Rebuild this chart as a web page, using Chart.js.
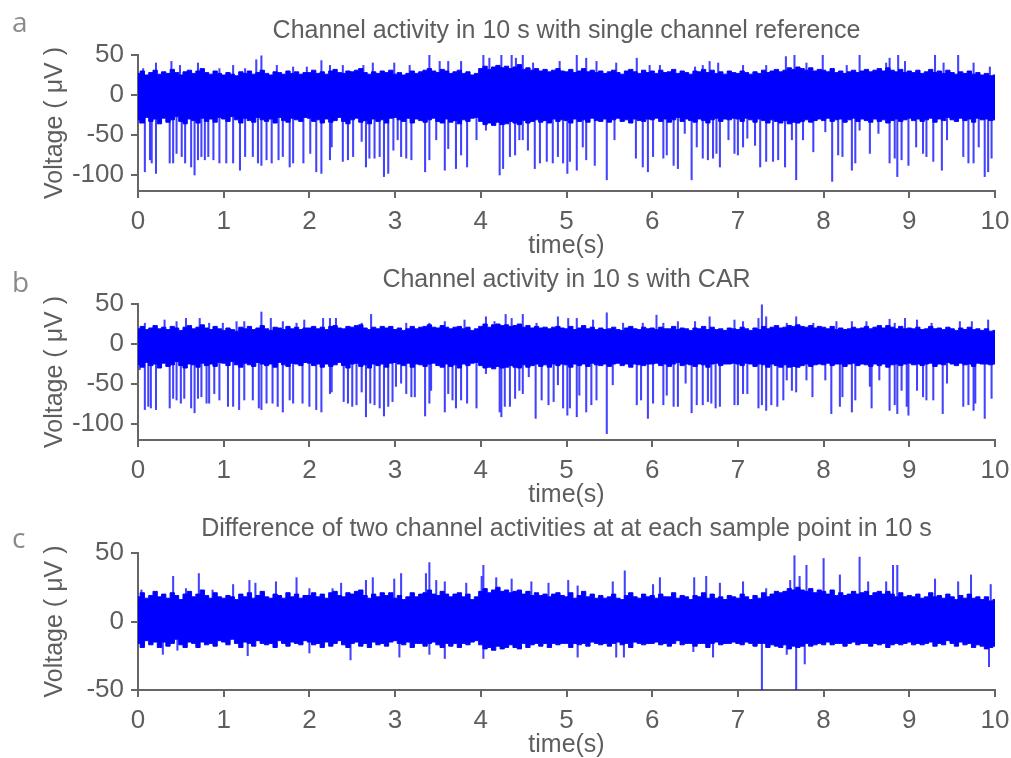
<!DOCTYPE html>
<html>
<head>
<meta charset="utf-8">
<script src="https://cdn.jsdelivr.net/npm/chart.js@4.4.1/dist/chart.umd.min.js"></script>
<style>
  html, body { margin: 0; background: #ffffff; }
  .wrap { position: relative; width: 1011px; height: 758px; }
  .wrap canvas { position: absolute; left: 0; top: 0; }
</style>
</head>
<body>
<div class="wrap">
  <canvas id="panelA" width="1011" height="758"></canvas>
  <canvas id="panelB" width="1011" height="758"></canvas>
  <canvas id="panelC" width="1011" height="758"></canvas>
</div>
<script>
// ---- tick labels -------------------------------------------------------
const timeTicks = [0, 1, 2, 3, 4, 5, 6, 7, 8, 9, 10];
const voltTicksAB = [-100, -50, 0, 50];
const voltTicksC = [-50, 0, 50];

// ---- signal envelopes, one value every 0.05 s (µV) -----------------------
const binStep = 0.05;

const topA = [
  27,30,25,28,31,26,29,27,32,28,25,29,31,27,30,33,28,26,30,27,
  25,28,26,24,29,27,30,26,28,31,27,25,29,28,26,30,27,29,26,28,
  28,31,27,29,26,30,32,28,27,30,29,31,33,28,26,29,27,30,28,31,
  26,28,25,27,30,27,29,31,33,30,28,32,30,27,29,31,27,29,25,27,
  33,36,32,35,37,34,36,33,35,38,32,34,31,33,30,32,29,31,33,30,
  29,32,28,30,33,29,31,28,30,27,29,31,28,26,30,32,29,27,31,28,
  30,27,31,28,29,32,27,30,28,26,30,29,32,28,31,27,29,26,30,28,
  27,30,28,26,29,27,31,28,30,32,29,31,34,32,35,33,31,34,30,32,
  31,29,33,28,30,27,29,31,28,30,32,29,31,33,30,34,31,29,32,28,
  30,28,31,27,29,32,28,30,27,31,28,26,29,27,30,26,28,25,27,24,
  25];
const botA = [
  -31,-35,-28,-33,-30,-36,-29,-34,-31,-27,-33,-36,-30,-32,-35,-29,-33,-30,-34,-28,
  -30,-33,-27,-31,-35,-29,-32,-34,-28,-31,-33,-30,-35,-28,-32,-34,-29,-31,-33,-28,
  -29,-33,-31,-35,-30,-34,-32,-28,-33,-36,-31,-29,-34,-32,-36,-30,-33,-31,-35,-29,
  -28,-31,-33,-29,-35,-30,-32,-34,-31,-29,-33,-35,-30,-34,-32,-36,-31,-33,-29,-28,
  -33,-37,-35,-38,-34,-37,-36,-33,-35,-37,-32,-35,-33,-31,-34,-32,-35,-30,-33,-31,
  -32,-35,-30,-33,-31,-34,-29,-32,-33,-30,-34,-31,-29,-33,-31,-35,-30,-32,-33,-30,
  -31,-29,-33,-30,-34,-31,-28,-33,-30,-32,-34,-30,-32,-35,-31,-29,-33,-30,-31,-29,
  -30,-33,-29,-31,-34,-30,-32,-35,-31,-33,-35,-32,-36,-34,-35,-33,-31,-34,-32,-30,
  -32,-29,-33,-31,-30,-34,-31,-29,-33,-30,-32,-34,-30,-33,-31,-35,-32,-30,-33,-31,
  -29,-32,-30,-33,-31,-29,-34,-30,-32,-28,-31,-33,-29,-32,-30,-34,-29,-31,-30,-32,
  -31];

const topB = [
  19,22,18,20,23,19,21,18,22,20,17,21,23,19,21,24,20,18,22,19,
  17,20,18,16,21,19,22,18,20,23,19,17,21,20,18,22,19,21,18,20,
  20,22,19,21,18,22,23,20,19,22,21,23,24,20,18,21,19,22,20,22,
  18,20,17,19,22,19,21,22,24,21,20,23,21,19,21,22,19,21,17,19,
  22,25,21,24,25,23,24,22,23,25,21,23,20,22,20,21,19,21,22,20,
  19,22,18,20,23,19,21,18,20,18,19,21,18,17,20,22,19,18,21,19,
  20,18,21,19,19,22,18,20,19,17,20,19,22,18,21,18,19,17,20,19,
  18,21,19,17,20,18,22,19,21,23,20,21,23,22,24,22,21,23,20,22,
  21,19,22,18,20,18,19,21,19,20,22,19,21,23,20,23,21,19,22,19,
  20,19,21,18,19,22,19,20,18,21,19,17,20,18,21,18,19,17,19,16,
  17];
const botB = [
  -26,-29,-23,-27,-25,-30,-24,-28,-26,-22,-27,-30,-25,-26,-29,-24,-27,-25,-28,-23,
  -24,-27,-22,-26,-29,-24,-26,-28,-23,-25,-27,-25,-29,-23,-26,-28,-24,-25,-27,-23,
  -24,-27,-25,-29,-25,-28,-26,-23,-27,-30,-25,-24,-28,-26,-30,-25,-27,-25,-29,-24,
  -23,-25,-27,-24,-29,-25,-26,-28,-25,-24,-27,-29,-25,-28,-26,-30,-25,-27,-24,-23,
  -27,-30,-29,-31,-28,-30,-29,-27,-29,-30,-26,-29,-27,-25,-28,-26,-29,-25,-27,-25,
  -26,-29,-25,-27,-25,-28,-24,-26,-27,-25,-28,-25,-24,-27,-25,-29,-25,-26,-27,-25,
  -25,-24,-27,-25,-28,-25,-23,-27,-25,-26,-28,-25,-26,-29,-25,-24,-27,-25,-25,-24,
  -25,-27,-24,-25,-28,-25,-26,-29,-25,-27,-29,-26,-29,-28,-29,-27,-25,-28,-26,-25,
  -26,-24,-27,-25,-25,-28,-25,-24,-27,-25,-26,-28,-25,-27,-25,-29,-26,-25,-27,-25,
  -24,-26,-25,-27,-25,-24,-28,-25,-26,-23,-25,-27,-24,-26,-25,-28,-24,-25,-25,-26,
  -25];

const topC = [
  18,21,17,19,22,18,20,17,21,19,16,20,22,18,20,23,19,17,21,18,
  17,19,18,16,20,18,21,17,19,22,18,17,20,19,17,21,18,20,17,19,
  19,21,18,20,17,21,22,19,18,21,20,22,23,19,17,20,18,21,19,21,
  17,19,16,18,21,18,20,21,23,20,19,22,20,18,20,21,18,20,16,18,
  22,24,21,23,25,22,23,21,22,23,20,22,19,21,19,20,18,20,21,19,
  18,21,17,19,22,18,20,17,19,17,18,20,17,16,19,21,18,17,20,18,
  19,17,20,18,18,21,17,19,18,16,19,18,21,17,20,17,18,16,19,18,
  17,20,18,16,19,17,21,18,20,22,21,22,24,23,25,23,22,24,21,23,
  22,20,23,19,21,19,20,22,20,21,22,19,21,22,20,22,20,18,21,18,
  19,18,20,17,18,21,18,19,17,20,18,16,19,17,20,17,18,16,18,15,
  16];
const botC = [
  -16,-19,-14,-17,-15,-19,-15,-18,-16,-13,-17,-19,-15,-16,-19,-15,-17,-16,-18,-14,
  -15,-17,-13,-16,-19,-15,-16,-18,-14,-16,-17,-16,-19,-14,-16,-18,-15,-16,-17,-14,
  -15,-17,-16,-19,-15,-18,-16,-14,-17,-19,-16,-15,-18,-16,-19,-15,-17,-16,-18,-15,
  -14,-16,-17,-15,-19,-16,-16,-18,-16,-15,-17,-19,-16,-18,-16,-19,-16,-17,-15,-14,
  -17,-20,-19,-21,-18,-20,-19,-17,-19,-20,-16,-19,-17,-16,-18,-16,-19,-16,-17,-16,
  -16,-19,-16,-17,-16,-18,-15,-16,-17,-16,-18,-16,-15,-17,-16,-19,-15,-16,-17,-16,
  -16,-15,-17,-16,-18,-16,-14,-17,-16,-16,-18,-16,-16,-19,-16,-15,-17,-16,-16,-15,
  -16,-17,-15,-16,-18,-16,-16,-19,-17,-18,-19,-17,-20,-18,-19,-18,-16,-18,-17,-16,
  -17,-15,-17,-16,-16,-18,-16,-15,-17,-16,-16,-18,-16,-17,-16,-19,-17,-16,-17,-16,
  -15,-17,-16,-17,-16,-15,-18,-16,-17,-14,-16,-18,-15,-17,-16,-19,-17,-18,-20,-19,
  -18];

// ---- isolated spikes: [time (s), voltage (µV)] ----------------------------
const peaksA = [[0.06,33],[0.21,40],[0.39,42],[0.49,37],[0.70,40],[0.95,33],[1.11,37],[1.25,33],
  [1.38,44],[1.44,49],[1.62,37],[1.81,35],[1.97,35],[2.14,43],[2.24,37],[2.39,37],[2.63,37],
  [2.74,40],[2.99,40],[3.17,37],[3.40,50],[3.52,42],[3.62,42],[3.77,42],[4.03,50],[4.10,46],
  [4.24,50],[4.36,50],[4.41,46],[4.49,51],[4.61,40],[4.92,42],[5.12,50],[5.23,46],[5.35,42],
  [5.58,40],[5.82,46],[5.97,37],[6.09,37],[6.50,35],[6.59,37],[6.67,42],[6.77,40],[7.06,37],
  [7.33,37],[7.56,48],[7.66,50],[7.80,40],[7.99,50],[8.27,37],[8.42,50],[8.73,40],[8.77,46],
  [8.87,50],[8.95,42],[9.30,50],[9.40,40],[9.57,50],[9.75,40],[9.94,35]];
const dipsA = [[0.02,-35],[0.08,-96],[0.14,-81],[0.16,-85],[0.21,-98],[0.37,-85],[0.41,-85],
  [0.45,-73],[0.51,-77],[0.55,-85],[0.62,-90],[0.66,-100],[0.70,-81],[0.74,-77],[0.78,-81],
  [0.82,-77],[0.88,-81],[0.95,-85],[1.03,-85],[1.11,-85],[1.19,-94],[1.25,-77],[1.34,-77],
  [1.40,-85],[1.44,-88],[1.50,-81],[1.56,-85],[1.64,-81],[1.69,-77],[1.77,-90],[1.81,-85],
  [1.93,-85],[2.01,-73],[2.08,-96],[2.14,-98],[2.24,-81],[2.26,-65],[2.39,-83],[2.45,-81],
  [2.51,-77],[2.61,-58],[2.66,-90],[2.70,-79],[2.76,-79],[2.82,-77],[2.87,-102],[2.92,-98],
  [2.98,-69],[3.03,-56],[3.07,-77],[3.13,-79],[3.19,-81],[3.35,-96],[3.40,-81],[3.48,-56],
  [3.58,-94],[3.62,-67],[3.71,-92],[3.77,-75],[3.84,-90],[3.95,-56],[4.06,-44],[4.22,-100],
  [4.26,-92],[4.34,-77],[4.40,-75],[4.45,-56],[4.49,-56],[4.55,-69],[4.63,-92],[4.69,-85],
  [4.77,-83],[4.84,-85],[4.90,-77],[4.96,-85],[5.01,-98],[5.04,-83],[5.12,-94],[5.19,-65],
  [5.23,-81],[5.33,-88],[5.47,-106],[5.56,-56],[5.81,-79],[5.89,-90],[5.95,-96],[6.01,-77],
  [6.13,-79],[6.17,-75],[6.25,-88],[6.30,-92],[6.38,-48],[6.46,-106],[6.52,-65],[6.59,-79],
  [6.65,-81],[6.71,-79],[6.75,-73],[6.79,-90],[6.89,-56],[6.96,-73],[7.00,-75],[7.06,-65],
  [7.11,-54],[7.20,-63],[7.26,-90],[7.33,-83],[7.41,-83],[7.47,-81],[7.55,-90],[7.63,-56],
  [7.68,-106],[7.76,-56],[7.88,-71],[8.02,-46],[8.10,-108],[8.17,-75],[8.22,-77],[8.33,-94],
  [8.37,-85],[8.42,-44],[8.54,-73],[8.64,-48],[8.77,-85],[8.83,-79],[8.86,-102],[8.91,-81],
  [8.99,-88],[9.08,-65],[9.16,-73],[9.20,-77],[9.28,-83],[9.38,-94],[9.44,-56],[9.63,-77],
  [9.69,-85],[9.75,-85],[9.81,-65],[9.88,-102],[9.92,-96],[9.96,-79]];

const peaksB = [[0.08,26],[0.31,30],[0.45,28],[0.56,32],[0.72,32],[0.83,26],[0.99,26],[1.15,28],
  [1.24,28],[1.44,40],[1.55,32],[1.69,28],[1.85,26],[1.94,30],[2.16,32],[2.24,32],[2.31,32],
  [2.61,26],[2.72,37],[3.13,26],[3.40,26],[3.58,28],[3.81,30],[4.06,34],[4.16,28],[4.29,37],
  [4.36,32],[4.49,37],[4.65,26],[4.90,34],[5.02,32],[5.12,32],[5.31,30],[5.47,39],[5.66,26],
  [5.89,26],[6.05,36],[6.13,26],[6.30,28],[6.50,28],[6.67,34],[6.96,30],[7.06,28],[7.24,32],
  [7.28,49],[7.33,34],[7.57,26],[7.68,34],[7.88,26],[8.15,28],[8.33,28],[8.50,28],[8.77,31],
  [8.83,26],[8.95,32],[9.09,30],[9.26,26],[9.59,28],[9.73,28],[9.92,30]];
const dipsB = [[0.02,-32],[0.08,-82],[0.12,-78],[0.15,-80],[0.21,-82],[0.37,-80],[0.41,-68],
  [0.45,-70],[0.50,-74],[0.54,-68],[0.62,-80],[0.66,-86],[0.70,-68],[0.74,-66],[0.80,-74],
  [0.83,-74],[0.89,-62],[0.95,-70],[1.05,-78],[1.11,-78],[1.18,-82],[1.24,-70],[1.34,-70],
  [1.41,-80],[1.44,-82],[1.50,-74],[1.57,-74],[1.63,-78],[1.69,-85],[1.77,-70],[1.81,-74],
  [1.92,-74],[2.00,-78],[2.08,-82],[2.14,-85],[2.24,-62],[2.26,-60],[2.40,-72],[2.45,-74],
  [2.50,-78],[2.55,-76],[2.61,-60],[2.66,-91],[2.71,-74],[2.76,-76],[2.82,-80],[2.87,-90],
  [2.92,-78],[2.97,-72],[3.01,-53],[3.07,-49],[3.13,-62],[3.19,-66],[3.23,-66],[3.35,-90],
  [3.40,-74],[3.42,-58],[3.58,-85],[3.62,-62],[3.67,-70],[3.71,-80],[3.77,-70],[3.84,-74],
  [3.95,-80],[4.06,-37],[4.22,-85],[4.24,-91],[4.28,-78],[4.34,-78],[4.40,-68],[4.45,-58],
  [4.49,-62],[4.56,-41],[4.64,-93],[4.71,-70],[4.79,-76],[4.85,-72],[4.90,-51],[4.96,-80],
  [5.01,-89],[5.04,-80],[5.12,-91],[5.15,-64],[5.23,-85],[5.29,-76],[5.35,-70],[5.47,-112],
  [5.54,-51],[5.82,-76],[5.87,-70],[5.95,-93],[6.01,-74],[6.13,-76],[6.17,-64],[6.25,-78],
  [6.30,-78],[6.39,-49],[6.46,-86],[6.52,-76],[6.59,-76],[6.65,-72],[6.69,-74],[6.74,-80],
  [6.79,-78],[6.96,-76],[7.00,-76],[7.06,-62],[7.11,-62],[7.24,-80],[7.28,-76],[7.33,-83],
  [7.39,-76],[7.46,-78],[7.53,-70],[7.57,-45],[7.63,-58],[7.68,-60],[7.80,-45],[7.87,-66],
  [8.02,-45],[8.09,-87],[8.19,-78],[8.22,-66],[8.33,-85],[8.37,-70],[8.54,-53],[8.56,-80],
  [8.65,-45],[8.77,-83],[8.83,-76],[8.86,-87],[8.91,-58],[8.97,-78],[8.99,-89],[9.09,-58],
  [9.16,-66],[9.20,-70],[9.28,-70],[9.39,-87],[9.44,-49],[9.63,-78],[9.69,-76],[9.75,-83],
  [9.77,-74],[9.88,-93],[9.96,-68]];

const peaksC = [[0.04,23],[0.41,33],[0.56,24],[0.71,35],[0.87,23],[1.11,27],[1.30,30],[1.37,28],
  [1.61,29],[1.85,32],[2.00,24],[2.27,24],[2.37,28],[2.66,30],[2.74,32],[2.99,31],[3.07,35],
  [3.36,35],[3.40,43],[3.48,30],[3.58,29],[3.83,28],[4.01,33],[4.03,41],[4.18,32],[4.36,31],
  [4.59,29],[4.79,28],[5.02,30],[5.13,26],[5.54,29],[5.68,37],[6.01,27],[6.09,32],[6.49,32],
  [6.63,33],[6.79,28],[7.06,29],[7.33,24],[7.61,30],[7.66,48],[7.72,33],[7.80,41],[8.00,46],
  [8.19,34],[8.42,47],[8.52,29],[8.73,29],[8.81,41],[8.86,41],[9.30,31],[9.57,29],[9.72,34],
  [9.95,27]];
const dipsC = [[0.29,-24],[0.46,-21],[1.28,-25],[2.00,-23],[2.48,-28],[3.05,-26],[3.40,-24],
  [3.58,-27],[4.03,-27],[5.13,-26],[5.58,-26],[5.67,-26],[6.48,-22],[6.71,-26],[7.28,-50],
  [7.57,-24],[7.68,-50],[7.78,-31],[9.93,-33]];

// ---- drawing --------------------------------------------------------------
const BLUE = '#0000ff';
const SPIKE = 'rgba(20,20,255,0.8)';
const INK = '#5e5e5e';
const AXIS = '#666666';
const FONT = '"Liberation Sans", Arial, sans-serif';
const W = 1011, H = 758;

function envelopePoints(values) {
  return values.map((v, i) => ({ x: Math.round(i * binStep * 100) / 100, y: v }));
}

function spikeBars(list) {
  return list.map(([t, v]) => ({ x: t, y: [0, v] }));
}

const captionPlugin = {
  id: 'caption',
  afterDraw(chart, args, opts) {
    const { ctx, chartArea } = chart;
    ctx.save();
    ctx.fillStyle = INK;
    ctx.textBaseline = 'alphabetic';
    ctx.textAlign = 'center';
    ctx.font = '25px ' + FONT;
    ctx.fillText(opts.text, (chartArea.left + chartArea.right) / 2, opts.baseline);
    ctx.textAlign = 'left';
    ctx.fillStyle = '#8a8a8a';
    ctx.font = '28px "Open Sans", "DejaVu Sans", sans-serif';
    ctx.fillText(opts.letter, 12, opts.letterBaseline);
    ctx.restore();
  }
};

function drawPanel(canvasId, p) {
  const xAxisHeight = 80;
  new Chart(document.getElementById(canvasId), {
    type: 'bar',
    data: {
      datasets: [
        { type: 'line', data: envelopePoints(p.top), borderColor: BLUE, borderWidth: 1,
          pointRadius: 0, stepped: 'middle', fill: false, order: 0 },
        { type: 'line', data: envelopePoints(p.bot), borderColor: BLUE, borderWidth: 1,
          pointRadius: 0, stepped: 'middle', fill: '-1', backgroundColor: BLUE, order: 0 },
        { type: 'bar', data: spikeBars(p.peaks.concat(p.dips)), backgroundColor: SPIKE,
          borderWidth: 0, barThickness: 1.4, order: 1 }
      ]
    },
    options: {
      responsive: false,
      animation: false,
      events: [],
      devicePixelRatio: 1,
      layout: { padding: { top: p.plotTop, bottom: H - p.plotBottom - xAxisHeight, left: 0, right: 16 } },
      plugins: {
        legend: { display: false },
        tooltip: { enabled: false },
        caption: { text: p.title, baseline: p.titleBaseline, letter: p.letter, letterBaseline: p.letterBaseline }
      },
      scales: {
        x: {
          type: 'linear', min: 0, max: 10, offset: false,
          afterBuildTicks: s => { s.ticks = timeTicks.map(v => ({ value: v })); },
          afterFit: s => { s.height = xAxisHeight; s.paddingLeft = 0; s.paddingRight = 0; },
          grid: { display: true, drawOnChartArea: false, drawTicks: true, tickLength: 7,
                  color: AXIS, lineWidth: 2, offset: false },
          border: { display: true, color: AXIS, width: 2 },
          ticks: { color: INK, font: { family: FONT, size: 26 }, padding: 8, maxRotation: 0 },
          title: { display: true, text: 'time(s)', color: INK,
                   font: { family: FONT, size: 25 }, padding: { top: 0, bottom: 10 } }
        },
        y: {
          type: 'linear', min: p.yMin, max: p.yMax,
          afterBuildTicks: s => { s.ticks = p.yTicks.map(v => ({ value: v })); },
          afterFit: s => { s.width = 138; s.paddingTop = 0; s.paddingBottom = 0; },
          grid: { display: true, drawOnChartArea: false, drawTicks: true, tickLength: 7,
                  color: AXIS, lineWidth: 2 },
          border: { display: true, color: AXIS, width: 2 },
          ticks: { color: INK, font: { family: FONT, size: 26 }, padding: 7 },
          title: { display: true, text: 'Voltage ( \u03bcV )', color: INK,
                   font: { family: FONT, size: 25 }, padding: { top: 40, bottom: 0 } }
        }
      }
    },
    plugins: [captionPlugin]
  });
}

drawPanel('panelA', {
  top: topA, bot: botA, peaks: peaksA, dips: dipsA,
  yMin: -120, yMax: 50, yTicks: voltTicksAB,
  plotTop: 55, plotBottom: 191,
  title: 'Channel activity in 10 s with single channel reference', titleBaseline: 38,
  letter: 'a', letterBaseline: 32
});
drawPanel('panelB', {
  top: topB, bot: botB, peaks: peaksB, dips: dipsB,
  yMin: -120, yMax: 50, yTicks: voltTicksAB,
  plotTop: 304, plotBottom: 440,
  title: 'Channel activity in 10 s with CAR', titleBaseline: 287,
  letter: 'b', letterBaseline: 292
});
drawPanel('panelC', {
  top: topC, bot: botC, peaks: peaksC, dips: dipsC,
  yMin: -50, yMax: 50, yTicks: voltTicksC,
  plotTop: 553, plotBottom: 690,
  title: 'Difference of two channel activities at at each sample point in 10 s', titleBaseline: 536,
  letter: 'c', letterBaseline: 548
});
</script>
</body>
</html>
